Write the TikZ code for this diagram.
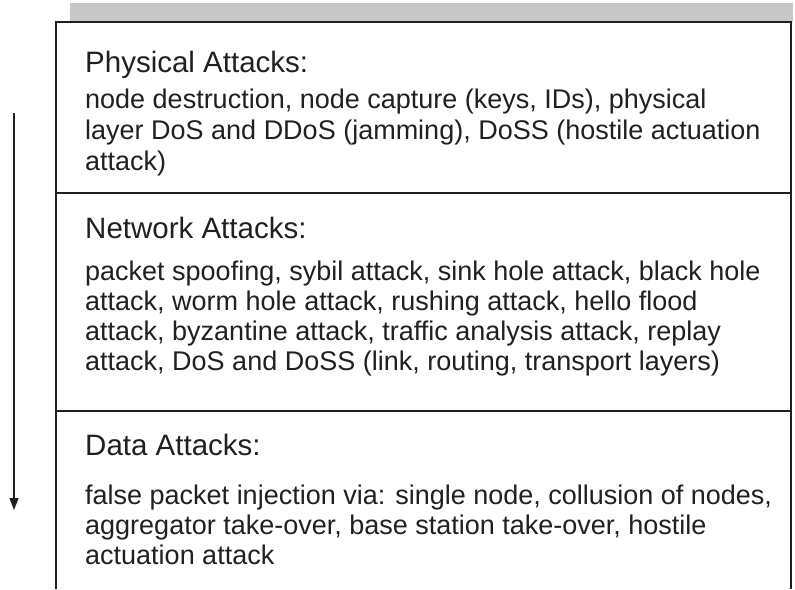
\documentclass[tikz,border=0pt]{standalone}
\usepackage{fontspec}
\setmainfont{Liberation Sans}
\usetikzlibrary{arrows.meta}
\definecolor{ink}{RGB}{35,31,32}
\definecolor{barfill}{RGB}{200,200,200}
\begin{document}
\begin{tikzpicture}[x=1pt,y=-1pt,
  frame/.style={draw=ink, line width=2pt},
  heading/.style={anchor=base west, inner sep=0pt, text=ink, font=\fontsize{29.5}{34}\selectfont},
  body/.style={anchor=north west, inner sep=0pt, text=ink, align=left, font=\fontsize{27}{30}\selectfont},
  flow/.style={draw=ink, line width=1.3pt, -{Triangle[length=12pt,width=9pt]}}]
\useasboundingbox (0,0) rectangle (795,589);
% shaded strip above the table
\fill[barfill] (70,3) rectangle (793,22);
% open-bottomed frame and section rules
\draw[frame] (56,589) -- (56,22) -- (791,22) -- (791,589);
\draw[frame] (56,193) -- (791,193);
\draw[frame] (56,411) -- (791,411);
% section texts
\node[heading] (phyT) at (85,72) {Physical Attacks:};
\node[body, font=\fontsize{27}{31}\selectfont] (phyB) at (85,89) {node destruction, node capture (keys, IDs), physical\\layer DoS and DDoS (jamming), DoSS (hostile actuation\\attack)};
\node[heading] (netT) at (85,238) {Network Attacks:};
\node[body] (netB) at (85,261) {packet spoofing, sybil attack, sink hole attack, black hole\\attack, worm hole attack, rushing attack, hello flood\\attack, byzantine attack, traffic analysis attack, replay\\attack, DoS and DoSS (link, routing, transport layers)};
\node[heading] (datT) at (85,455) {Data Attacks:};
\node[body] (datB) at (85,485) {false packet injection via: single node, collusion of nodes,\\aggregator take-over, base station take-over, hostile\\actuation attack};
% downward arrow along the left side
\coordinate (arrTop) at (14,113);
\coordinate (arrEnd) at (14,510);
\draw[flow] (arrTop) -- (arrEnd);
\end{tikzpicture}
\end{document}
